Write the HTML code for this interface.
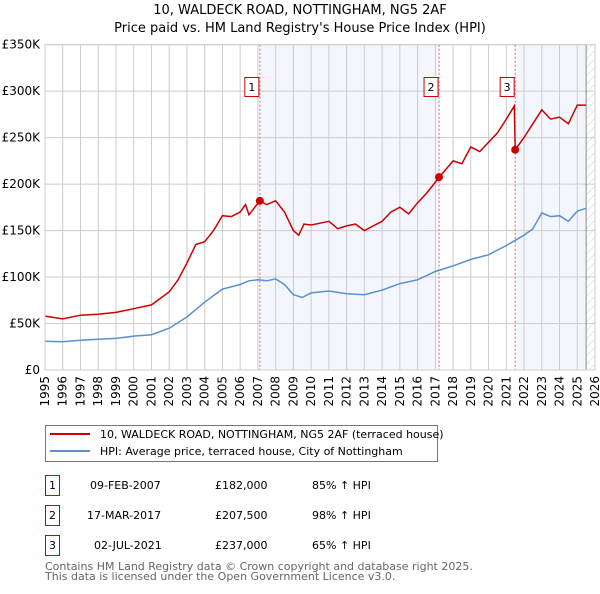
<!DOCTYPE html>
<html><head><meta charset="utf-8"><style>
body{margin:0;background:#fff;font-family:"DejaVu Sans","Liberation Sans",sans-serif;}
svg text{font-family:"DejaVu Sans","Liberation Sans",sans-serif;}
</style></head><body>
<svg id="c" width="600" height="590" xmlns="http://www.w3.org/2000/svg">
<defs><pattern id="hatch" width="6" height="6" patternUnits="userSpaceOnUse" patternTransform="rotate(45)"><line x1="0" y1="0" x2="0" y2="6" stroke="#ccc" stroke-width="1"/></pattern></defs>
<text x="300" y="14" text-anchor="middle" font-size="13">10, WALDECK ROAD, NOTTINGHAM, NG5 2AF</text>
<text x="300" y="32" text-anchor="middle" font-size="13">Price paid vs. HM Land Registry's House Price Index (HPI)</text>
<g id="plot"></g>
<g>
<rect x="45.5" y="425.5" width="392" height="36" fill="#fff" stroke="#777"/>
<line x1="50" y1="434" x2="90" y2="434" stroke="#cc0000" stroke-width="2"/>
<text x="100" y="438" font-size="11">10, WALDECK ROAD, NOTTINGHAM, NG5 2AF (terraced house)</text>
<line x1="50" y1="451" x2="90" y2="451" stroke="#5b8fd0" stroke-width="2"/>
<text x="100" y="455" font-size="11">HPI: Average price, terraced house, City of Nottingham</text>
</g>
<g font-size="11">
<rect x="45.5" y="475.5" width="14" height="20" fill="#fff" stroke="#cc0000"/><text x="52.5" y="489" text-anchor="middle">1</text>
<text x="90" y="489">09-FEB-2007</text><text x="215" y="489">£182,000</text><text x="312" y="489">85% ↑ HPI</text>
<rect x="45.5" y="505.5" width="14" height="20" fill="#fff" stroke="#cc0000"/><text x="52.5" y="519" text-anchor="middle">2</text>
<text x="87" y="519">17-MAR-2017</text><text x="215" y="519">£207,500</text><text x="312" y="519">98% ↑ HPI</text>
<rect x="45.5" y="535.5" width="14" height="20" fill="#fff" stroke="#cc0000"/><text x="52.5" y="549" text-anchor="middle">3</text>
<text x="94" y="549">02-JUL-2021</text><text x="215" y="549">£237,000</text><text x="312" y="549">65% ↑ HPI</text>
</g>
<text x="45" y="570" font-size="11" fill="#666">Contains HM Land Registry data © Crown copyright and database right 2025.</text>
<text x="45" y="580" font-size="11" fill="#666">This data is licensed under the Open Government Licence v3.0.</text>
</svg>
<script>
const yTicks=[0,50,100,150,200,250,300,350];
const yTickLabels=["£0","£50K","£100K","£150K","£200K","£250K","£300K","£350K"];
const years=[1995,1996,1997,1998,1999,2000,2001,2002,2003,2004,2005,2006,2007,2008,2009,2010,2011,2012,2013,2014,2015,2016,2017,2018,2019,2020,2021,2022,2023,2024,2025,2026];
const hpiT=[1995,1996,1997,1998,1999,2000,2001,2002,2003,2004,2005,2006,2006.5,2007,2007.5,2008,2008.5,2009,2009.5,2010,2011,2012,2013,2014,2015,2016,2017,2018,2019,2020,2021,2022,2022.5,2023,2023.5,2024,2024.5,2025,2025.5];
const hpiV=[31,30.5,32,33,34,36.5,38,45,57,73,87,92,96,97,96,98,92,81,78,83,85,82,81,86,93,97,106,112,119,124,134,145,152,169,165,166,160,171,174];
const redT=[1995,1996,1997,1998,1999,2000,2001,2002,2002.5,2003,2003.5,2004,2004.5,2005,2005.5,2006,2006.3,2006.5,2007.1,2007.5,2008,2008.5,2009,2009.3,2009.6,2010,2010.5,2011,2011.5,2012,2012.5,2013,2013.5,2014,2014.5,2015,2015.5,2016,2016.5,2017.2,2018,2018.5,2019,2019.5,2020,2020.5,2021,2021.45,2021.5,2022,2022.5,2023,2023.5,2024,2024.5,2025,2025.5];
const redV=[58,55,59,60,62,66,70,84,97,115,135,138,150,166,165,170,178,167,182,178,182,170,150,145,157,156,158,160,152,155,157,150,155,160,170,175,168,180,190,207,225,222,240,235,245,255,270,284,237,250,265,280,270,272,265,285,285];
const saleT=[2007.11,2017.21,2021.5];
const saleV=[182,207.5,237];
const saleLabels=["1","2","3"];
const NS="http://www.w3.org/2000/svg";
const L=45,R=595,T=44.7,B=370;
const xs=t=>L+(t-1995)*(R-L)/31;
const ys=v=>B-v*(B-T)/350;
const g=document.getElementById('plot');
function mk(tag,a){const e=document.createElementNS(NS,tag);for(const k in a)e.setAttribute(k,a[k]);g.appendChild(e);return e;}
let e;
e=mk('rect',{x:xs(saleT[0]),y:T,width:xs(saleT[1])-xs(saleT[0]),height:B-T,fill:'#eef3fc',opacity:0.7});


e=mk('rect',{x:xs(saleT[2]),y:T,width:xs(2025.5)-xs(saleT[2]),height:B-T,fill:'#eef3fc',opacity:0.7});


e=mk('rect',{x:xs(2025.5),y:T,width:R-xs(2025.5),height:B-T,fill:'url(#hatch)'});


years.forEach(y=>{
 e=mk('line',{x1:xs(y),x2:xs(y),y1:T,y2:B,stroke:'#ccc','stroke-width':1});
 
 
 const tx=xs(y)+4,ty=B+6;
 e=mk('text',{x:tx,y:ty,transform:`rotate(-90 ${tx} ${ty})`,'text-anchor':'end','font-size':12});
 e.textContent=y;
 
 
});
yTicks.forEach((v,i)=>{
 e=mk('line',{x1:L,x2:R,y1:ys(v),y2:ys(v),stroke:'#ccc','stroke-width':1});
 
 
 e=mk('text',{x:L-5,y:ys(v)+4,'text-anchor':'end','font-size':12});
 e.textContent=yTickLabels[i];
 
 
});
e=mk('line',{x1:xs(2025.5),x2:xs(2025.5),y1:T,y2:B,stroke:'#888','stroke-width':1});


saleT.forEach((t,i)=>{
 e=mk('line',{x1:xs(t),x2:xs(t),y1:T,y2:B,stroke:'#e06666','stroke-width':1,'stroke-dasharray':'2,2'});
 
 
 e=mk('rect',{x:xs(t)-15,y:77.5,width:14,height:19,fill:'#fff',stroke:'#cc0000'});
 
 
 e=mk('text',{x:xs(t)-8,y:91,'text-anchor':'middle','font-size':11});
 e.textContent=saleLabels[i];
 
 
});
// adjust label positions: labels sit left of line
const pts=(T2,V)=>T2.map((t,i)=>xs(t).toFixed(1)+','+ys(V[i]).toFixed(1)).join(' ');
e=mk('polyline',{points:pts(hpiT,hpiV),fill:'none',stroke:'#5b8fd0','stroke-width':1.5});


e=mk('polyline',{points:pts(redT,redV),fill:'none',stroke:'#cc0000','stroke-width':1.5});


saleT.forEach((t,i)=>{
 e=mk('circle',{cx:xs(t),cy:ys(saleV[i]),r:4,fill:'#cc0000'});
 
 
});
e=mk('rect',{x:L,y:T,width:R-L,height:B-T,fill:'none',stroke:'#ccc'});


</script>
</body></html>
